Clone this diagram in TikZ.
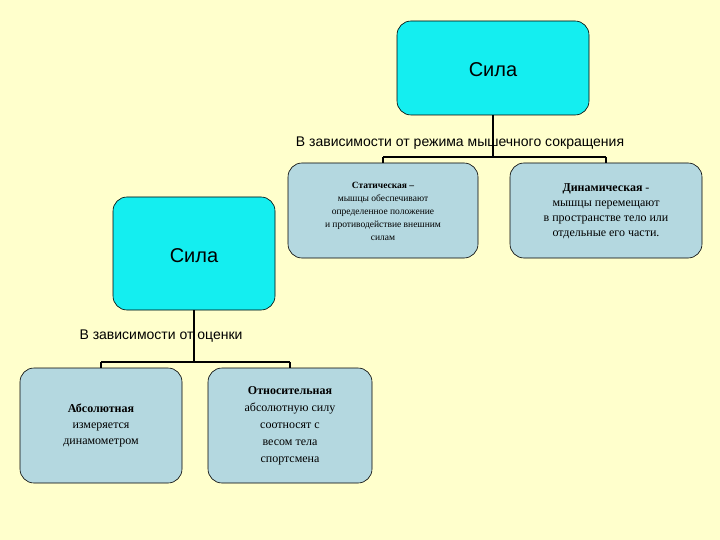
\documentclass[tikz,border=0pt]{standalone}
\usepackage{fontspec}
\setmainfont{Liberation Serif}
\newfontfamily\arial{Liberation Sans}
\definecolor{bgc}{RGB}{255,255,204}
\definecolor{cyc}{RGB}{20,238,240}
\definecolor{lbc}{RGB}{180,216,224}
\begin{document}
\begin{tikzpicture}[x=1pt,y=-1pt,
 big/.style={draw=black,fill=cyc,rounded corners=14pt,line width=0.6pt},
 sm/.style={draw=black,fill=lbc,rounded corners=14pt,line width=0.6pt},
 ln/.style={line width=1.6pt}]
\fill[bgc] (0,0) rectangle (720,540);
\useasboundingbox (0,0) rectangle (720,540);
\draw[big] (397,21) rectangle (589,115);
\node[font=\arial\fontsize{20}{24}\selectfont] (s1) at (493,70) {Сила};
\coordinate (s1b) at (493,115);
\draw[sm] (288,163) rectangle (478,258);
\node[align=center,font=\fontsize{9.5}{13}\selectfont] (st) at (383,211) {\textbf{Статическая –}\\мышцы обеспечивают\\определенное положение\\и противодействие внешним\\силам};
\draw[sm] (510,163) rectangle (702,258);
\node[align=center,font=\fontsize{12}{15}\selectfont] (dy) at (606,211) {\textbf{Динамическая} -\\мышцы перемещают\\в пространстве тело или\\отдельные его части.};
\coordinate (bar1) at (493,157);
\coordinate (bl1) at (383,157);
\coordinate (br1) at (606,157);
\draw[ln] (s1b) -- (bar1);
\draw[ln] (bl1) -- (br1);
\draw[ln] (bl1) -- (383,163);
\draw[ln] (br1) -- (606,163);
\node[font=\arial\fontsize{14}{16}\selectfont] (t1) at (460,143) {В зависимости от режима мышечного сокращения};
\draw[big] (113,197) rectangle (275,310);
\node[font=\arial\fontsize{20}{24}\selectfont] (s2) at (194,256) {Сила};
\draw[sm] (20,368) rectangle (182,483);
\node[align=center,font=\fontsize{12}{16}\selectfont] (ab) at (101,425) {\textbf{Абсолютная}\\измеряется\\динамометром};
\draw[sm] (208,368) rectangle (372,483);
\node[align=center,font=\fontsize{12}{17}\selectfont] (re) at (290,426) {\textbf{Относительная}\\абсолютную силу\\соотносят с\\весом тела\\спортсмена};
\coordinate (bl2) at (101,362);
\coordinate (br2) at (290,362);
\draw[ln] (194,310) -- (194,362);
\draw[ln] (bl2) -- (br2);
\draw[ln] (bl2) -- (101,368);
\draw[ln] (br2) -- (290,368);
\node[font=\arial\fontsize{14}{16}\selectfont,anchor=west] (t2) at (76,336) {В зависимости от оценки};
\end{tikzpicture}
\end{document}
